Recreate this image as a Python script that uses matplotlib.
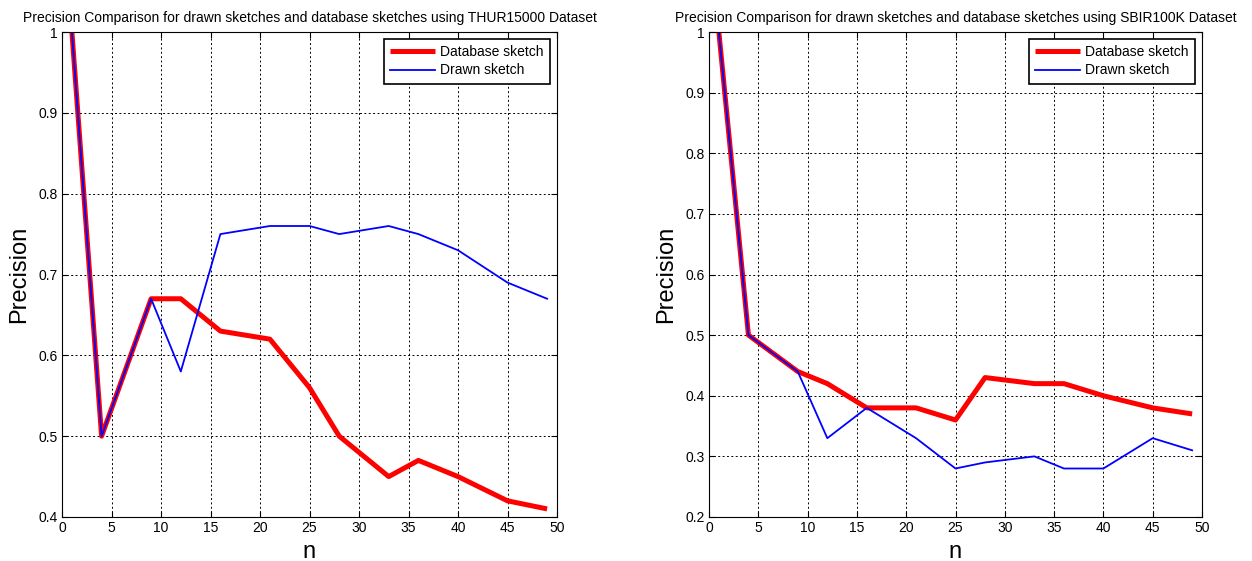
import matplotlib
matplotlib.use("Agg")
import matplotlib.pyplot as plt

plt.rcParams['font.family'] = ['Liberation Sans', 'DejaVu Sans']

n_values = [1, 4, 9, 12, 16, 21, 25, 28, 33, 36, 40, 45, 49]

thur_database = [1.0, 0.50, 0.67, 0.67, 0.63, 0.62, 0.56, 0.50, 0.45, 0.47, 0.45, 0.42, 0.41]
thur_drawn = [1.0, 0.50, 0.67, 0.58, 0.75, 0.76, 0.76, 0.75, 0.76, 0.75, 0.73, 0.69, 0.67]

sbir_database = [1.0, 0.50, 0.44, 0.42, 0.38, 0.38, 0.36, 0.43, 0.42, 0.42, 0.40, 0.38, 0.37]
sbir_drawn = [1.0, 0.50, 0.44, 0.33, 0.38, 0.33, 0.28, 0.29, 0.30, 0.28, 0.28, 0.33, 0.31]

titles = ["Precision Comparison for drawn sketches and database sketches using THUR15000 Dataset",
          "Precision Comparison for drawn sketches and database sketches using SBIR100K Dataset"]
x_ticks = [0, 5, 10, 15, 20, 25, 30, 35, 40, 45, 50]
y_ticks_left = [0.4, 0.5, 0.6, 0.7, 0.8, 0.9, 1.0]
y_ticks_right = [0.2, 0.3, 0.4, 0.5, 0.6, 0.7, 0.8, 0.9, 1.0]
y_labels_left = ["0.4", "0.5", "0.6", "0.7", "0.8", "0.9", "1"]
y_labels_right = ["0.2", "0.3", "0.4", "0.5", "0.6", "0.7", "0.8", "0.9", "1"]

W, H = 1252, 561
fig = plt.figure(figsize=(W / 100, H / 100), dpi=100)

ax1 = fig.add_axes([62 / W, (H - 517) / H, (557 - 62) / W, (517 - 32) / H])
ax2 = fig.add_axes([709 / W, (H - 517) / H, (1202 - 709) / W, (517 - 32) / H])

panels = [
    (ax1, thur_database, thur_drawn, titles[0], y_ticks_left, y_labels_left, (0.4, 1.0)),
    (ax2, sbir_database, sbir_drawn, titles[1], y_ticks_right, y_labels_right, (0.2, 1.0)),
]

for ax, db, dr, title, yt, yl, ylim in panels:
    ax.plot(n_values, db, color='#ff0000', linewidth=3.6, label='Database sketch',
            solid_joinstyle='round', solid_capstyle='butt')
    ax.plot(n_values, dr, color='#0000ff', linewidth=1.3, label='Drawn sketch')
    ax.set_xlim(0, 50)
    ax.set_ylim(*ylim)
    ax.set_xticks(x_ticks)
    ax.set_yticks(yt)
    ax.set_yticklabels(yl)
    ax.grid(True, color='black', linestyle=(0, (2, 2.5)), linewidth=0.7)
    ax.tick_params(direction='in', labelsize=10, length=4, width=0.8, top=True, right=True, pad=3)
    for s in ax.spines.values():
        s.set_linewidth(0.8)
    ax.set_title(title, fontsize=10, pad=7)
    ax.set_xlabel('n', fontsize=17, labelpad=4)
    ax.set_ylabel('Precision', fontsize=17, labelpad=6)
    leg = ax.legend(loc='upper right', fontsize=10, frameon=True, fancybox=False,
                    edgecolor='black', framealpha=1, borderpad=0.45, handlelength=3.2,
                    labelspacing=0.3, handletextpad=0.4, borderaxespad=0.5)
    leg.get_frame().set_linewidth(1.2)

fig.savefig('out.png', dpi=100)
